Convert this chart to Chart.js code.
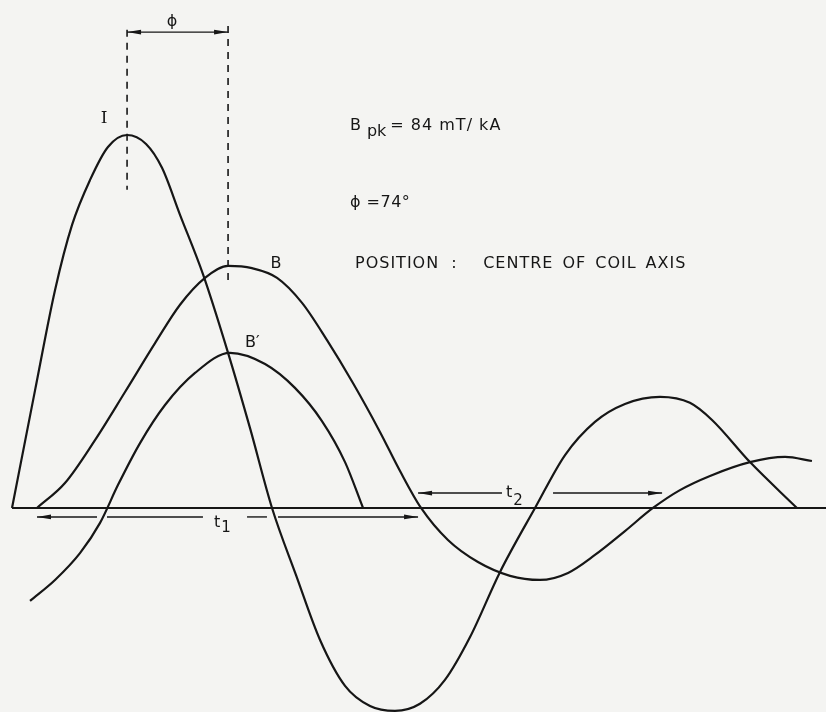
<!DOCTYPE html>
<html>
<head>
<meta charset="utf-8">
<title>I, B and B' at the coil centre</title>
<script src="https://cdn.jsdelivr.net/npm/chart.js@4.4.1/dist/chart.umd.min.js"></script>
<style>
  html, body { margin: 0; padding: 0; background: #f4f4f2; }
  #wrap { width: 826px; height: 712px; }
</style>
</head>
<body>
<div id="wrap"><canvas id="waveChart"></canvas></div>
<script>
// angle in electrical degrees, amplitude relative to the current peak
const curveI = [
  [0, 0], [16.9, 0.316], [31.5, 0.584], [44.0, 0.759], [57.1, 0.879], [70.3, 0.968],
  [84.3, 1.000], [98.2, 0.976], [109.9, 0.912], [123.1, 0.786], [139.9, 0.627],
  [158.3, 0.416], [174.4, 0.214], [190.5, 0], [208.1, -0.180], [225.7, -0.354],
  [244.0, -0.477], [262.3, -0.531], [280.6, -0.544], [298.9, -0.525], [317.2, -0.461],
  [335.6, -0.346], [357.5, -0.172], [383.2, 0], [405.2, 0.142], [427.1, 0.231],
  [449.1, 0.279], [474.8, 0.298], [496.7, 0.282], [512.9, 0.236], [540.7, 0.123],
  [575.1, 0]
];
const curveB = [
  [18.3, 0], [38.8, 0.067], [60.8, 0.182], [82.8, 0.311], [104.8, 0.442],
  [123.1, 0.545], [141.4, 0.617], [158.3, 0.649], [175.8, 0.643], [194.2, 0.617],
  [212.5, 0.550], [230.8, 0.450], [249.8, 0.335], [269.6, 0.204], [284.3, 0.099],
  [299.7, 0], [319.4, -0.086], [341.4, -0.145], [364.9, -0.182], [386.8, -0.193],
  [407.4, -0.174], [427.1, -0.126], [449.1, -0.062], [469.6, 0], [489.4, 0.048],
  [511.4, 0.086], [540.7, 0.123], [566.4, 0.137], [586.1, 0.126]
];
const curveBdash = [
  [13.2, -0.249], [31.5, -0.193], [49.8, -0.121], [64.5, -0.040], [77.7, 0.062],
  [93.8, 0.174], [112.1, 0.276], [134.1, 0.362], [159.7, 0.416], [185.4, 0.386],
  [207.3, 0.322], [227.1, 0.233], [244.0, 0.123], [257.2, 0]
];

const peakAngleI = 84.3;
const phaseShift = 74;           // degrees between I and B peaks
const bPeak = 84;                // mT per kA
const t1Span = [18.3, 297.5];
const t2Span = [297.5, 476.3];

const xMin = -8.8, xMax = 596.4;
const yMin = -0.547, yMax = 1.362;

const ink = '#161616';
const pts = arr => arr.map(([x, y]) => ({ x, y }));

function curve(data) {
  return {
    data: pts(data), showLine: true, borderColor: ink, borderWidth: 2.2,
    pointRadius: 0, cubicInterpolationMode: 'monotone', fill: false
  };
}
function straight(data, dash, width) {
  return {
    data: pts(data), showLine: true, borderColor: ink, borderWidth: width,
    borderDash: dash, pointRadius: 0, tension: 0, fill: false
  };
}

function head(ctx, x, y, dir) {
  // narrow filled arrowhead with its tip at (x, y); dir -1 = left, 1 = right
  ctx.beginPath();
  ctx.moveTo(x, y);
  ctx.lineTo(x - dir * 14, y - 2.4);
  ctx.lineTo(x - dir * 14, y + 2.4);
  ctx.closePath();
  ctx.fill();
}

const notes = {
  id: 'notes',
  afterDatasetsDraw(chart) {
    const { ctx, scales } = chart;
    const X = v => scales.x.getPixelForValue(v);
    const Y = v => scales.y.getPixelForValue(v);
    const font = (s, fam) => (s + 'px ' + (fam || '"DejaVu Sans"'));
    ctx.save();
    ctx.fillStyle = ink;
    ctx.strokeStyle = ink;
    ctx.lineWidth = 1.4;
    ctx.textBaseline = 'alphabetic';

    const seg = (a, b, y) => {
      ctx.beginPath();
      ctx.moveTo(X(a), Y(y));
      ctx.lineTo(X(b), Y(y));
      ctx.stroke();
    };

    // phase arrow between the two peaks
    const phiY = 1.276;
    seg(peakAngleI, peakAngleI + phaseShift, phiY);
    head(ctx, X(peakAngleI), Y(phiY), -1);
    head(ctx, X(peakAngleI + phaseShift), Y(phiY), 1);
    ctx.textAlign = 'center';
    ctx.font = font(16);
    ctx.fillText('ϕ', X(117.2), Y(1.292));

    // t1 and t2 spans
    const t1Y = -0.024;
    [[t1Span[0], 62.3], [69.6, 139.9], [172.2, 186.8], [194.9, t1Span[1]]]
      .forEach(([a, b]) => seg(a, b, t1Y));
    head(ctx, X(t1Span[0]), Y(t1Y), -1);
    head(ctx, X(t1Span[1]), Y(t1Y), 1);
    const t2Y = 0.040;
    seg(t2Span[0], 359.0, t2Y);
    seg(396.4, t2Span[1], t2Y);
    head(ctx, X(t2Span[0]), Y(t2Y), -1);
    head(ctx, X(t2Span[1]), Y(t2Y), 1);

    ctx.textAlign = 'left';
    const withSub = (main, sub, x, y, drop) => {
      ctx.font = font(16);
      ctx.fillText(main, X(x), Y(y));
      const w = ctx.measureText(main).width;
      ctx.font = font(15);
      ctx.fillText(sub, X(x) + w + 1, Y(y) + drop);
    };
    withSub('t', '1', 148.0, -0.051, 5);
    withSub('t', '2', 361.9, 0.029, 8);

    // curve labels
    ctx.textAlign = 'center';
    ctx.font = font(17, '"DejaVu Serif"');
    ctx.fillText('I', X(67.4), Y(1.032));
    ctx.font = font(16);
    ctx.fillText('B', X(193.4), Y(0.643));
    ctx.textAlign = 'left';
    ctx.fillText('B′', X(170.7), Y(0.432));

    // notes on the right
    let x0 = X(247.6), y0 = Y(1.013);
    ctx.font = font(16);
    ctx.fillText('B', x0, y0);
    x0 += ctx.measureText('B').width + 6;
    ctx.fillText('pk', x0, y0 + 6);
    x0 += ctx.measureText('pk').width + 4;
    ctx.letterSpacing = '1px';
    ctx.fillText('= ' + bPeak + ' mT/ kA', x0, y0);

    ctx.letterSpacing = '0.5px';
    ctx.fillText('ϕ =' + phaseShift + '°', X(247.6), Y(0.807));

    ctx.letterSpacing = '1px';
    x0 = X(251.3);
    y0 = Y(0.643);
    ctx.fillText('POSITION', x0, y0);
    x0 += ctx.measureText('POSITION').width + 12;
    ctx.fillText(':', x0, y0);
    x0 += 32;
    ['CENTRE', 'OF', 'COIL', 'AXIS'].forEach(w => {
      ctx.fillText(w, x0, y0);
      x0 += ctx.measureText(w).width + 9;
    });
    ctx.restore();
  }
};

new Chart(document.getElementById('waveChart'), {
  type: 'scatter',
  data: {
    datasets: [
      straight([[0, 0], [xMax, 0]], [], 2),
      curve(curveI),
      curve(curveB),
      curve(curveBdash),
      straight([[peakAngleI, 1.282], [peakAngleI, 0.853]], [7, 6], 1.6),
      straight([[peakAngleI + phaseShift, 1.292], [peakAngleI + phaseShift, 0.598]], [7, 6], 1.6)
    ]
  },
  options: {
    responsive: true,
    maintainAspectRatio: false,
    animation: false,
    events: [],
    layout: { padding: 0 },
    plugins: { legend: { display: false }, tooltip: { enabled: false } },
    scales: {
      x: { type: 'linear', min: xMin, max: xMax, display: false },
      y: { min: yMin, max: yMax, display: false }
    }
  },
  plugins: [notes]
});
</script>
</body>
</html>
